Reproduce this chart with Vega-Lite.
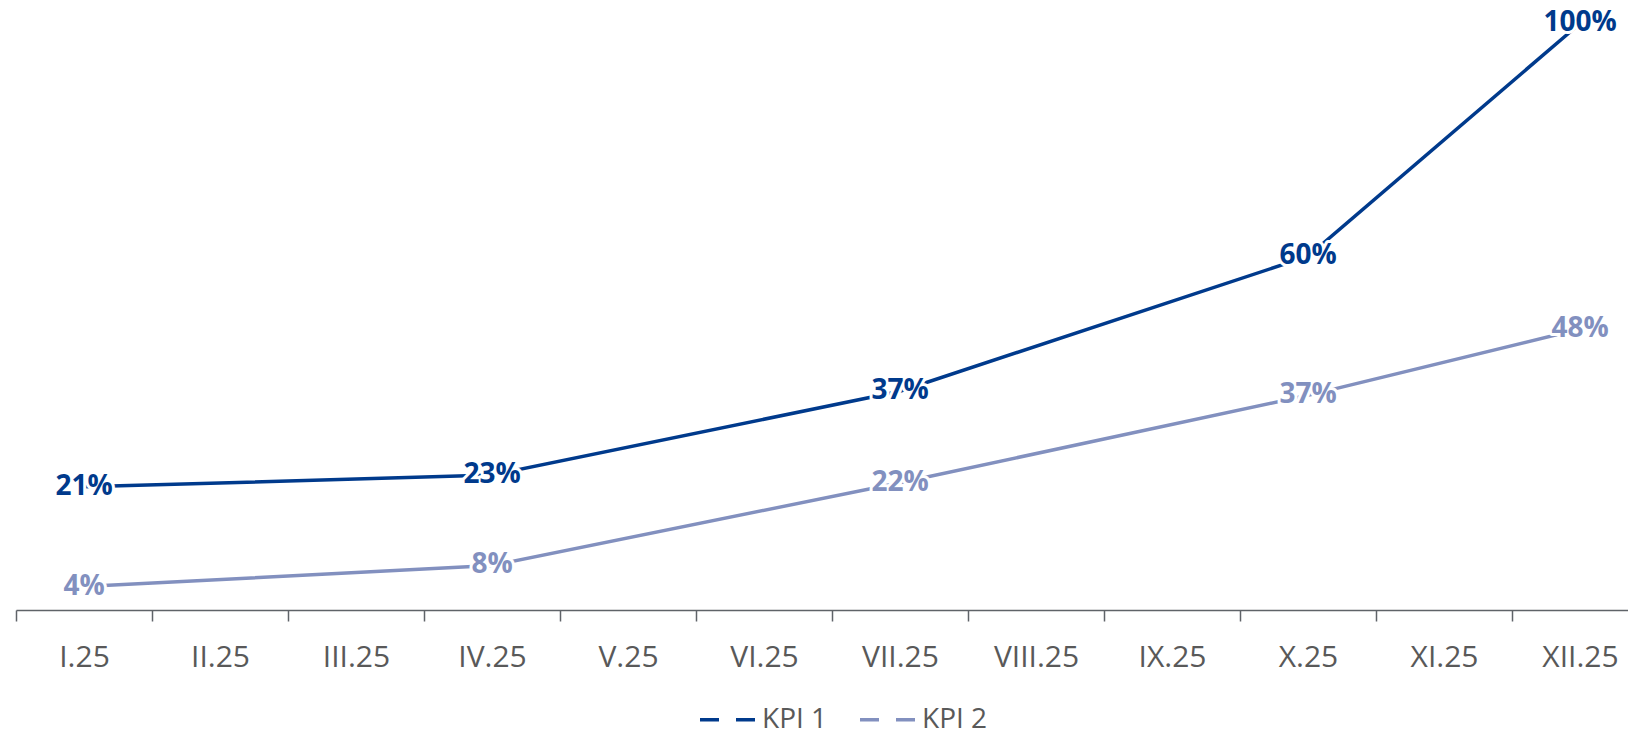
{
  "$schema": "https://vega.github.io/schema/vega-lite/v6.json",
  "width": 1612,
  "height": 610,
  "autosize": {"type": "none"},
  "padding": {"left": 16, "top": 0, "right": 0, "bottom": 123},
  "background": "white",
  "config": {"view": {"stroke": null}, "font": "Open Sans"},
  "data": {
    "values": [
      {"month": "I.25", "kpi": "KPI 1", "value": 0.21},
      {"month": "IV.25", "kpi": "KPI 1", "value": 0.23},
      {"month": "VII.25", "kpi": "KPI 1", "value": 0.373},
      {"month": "X.25", "kpi": "KPI 1", "value": 0.603},
      {"month": "XII.25", "kpi": "KPI 1", "value": 1.0},
      {"month": "I.25", "kpi": "KPI 2", "value": 0.04},
      {"month": "IV.25", "kpi": "KPI 2", "value": 0.076},
      {"month": "VII.25", "kpi": "KPI 2", "value": 0.217},
      {"month": "X.25", "kpi": "KPI 2", "value": 0.366},
      {"month": "XII.25", "kpi": "KPI 2", "value": 0.479}
    ]
  },
  "encoding": {
    "x": {
      "field": "month",
      "type": "ordinal",
      "sort": null,
      "scale": {
        "type": "band",
        "domain": ["I.25", "II.25", "III.25", "IV.25", "V.25", "VI.25", "VII.25", "VIII.25", "IX.25", "X.25", "XI.25", "XII.25"],
        "range": [0, 1632],
        "paddingInner": 0,
        "paddingOuter": 0
      },
      "axis": {
        "title": null,
        "tickBand": "extent",
        "labelAngle": 0,
        "labelFont": "Open Sans",
        "labelFontSize": 30,
        "labelColor": "#595959",
        "labelBaseline": "alphabetic",
        "labelPadding": 45,
        "tickSize": 11,
        "tickColor": "#5f6368",
        "tickWidth": 1.5,
        "domainColor": "#5f6368",
        "domainWidth": 1.5,
        "grid": false
      }
    },
    "y": {
      "field": "value",
      "type": "quantitative",
      "scale": {"domain": [0, 1.04], "nice": false, "zero": true},
      "axis": null
    },
    "color": {
      "field": "kpi",
      "type": "nominal",
      "scale": {"domain": ["KPI 1", "KPI 2"], "range": ["#003A8C", "#8290BF"]},
      "legend": {
        "title": null,
        "orient": "none",
        "legendX": 682,
        "legendY": 690,
        "direction": "horizontal",
        "symbolType": "stroke",
        "symbolSize": 3025,
        "symbolStrokeWidth": 3.5,
        "symbolDash": [19, 17],
        "labelFont": "Open Sans",
        "labelFontSize": 28,
        "labelColor": "#595959",
        "labelOffset": 5,
        "columnPadding": 25
      }
    }
  },
  "layer": [
    {
      "mark": {"type": "line", "strokeWidth": 3.5}
    },
    {
      "mark": {"type": "text", "font": "Open Sans", "fontWeight": "bold", "fontSize": 28, "align": "center", "baseline": "middle", "stroke": "white", "strokeWidth": 6, "strokeJoin": "round"},
      "encoding": {"text": {"field": "value", "type": "quantitative", "format": ".0%"}}
    },
    {
      "mark": {"type": "text", "font": "Open Sans", "fontWeight": "bold", "fontSize": 28, "align": "center", "baseline": "middle"},
      "encoding": {"text": {"field": "value", "type": "quantitative", "format": ".0%"}}
    }
  ]
}
